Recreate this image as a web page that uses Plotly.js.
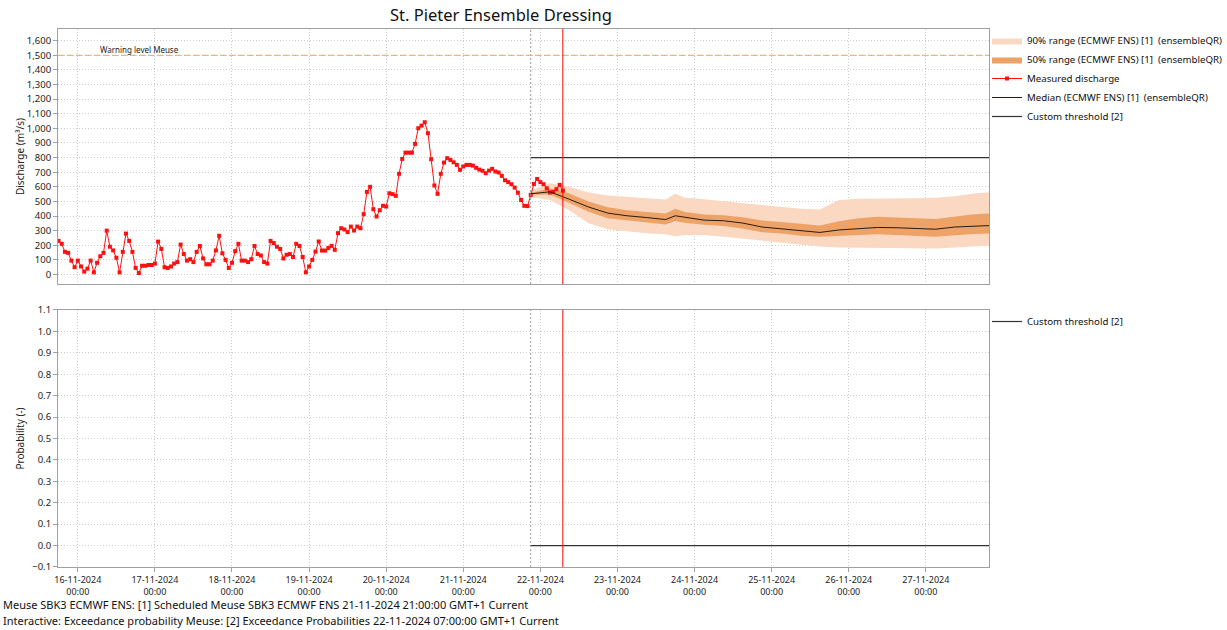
<!DOCTYPE html>
<html>
<head>
<meta charset="utf-8">
<script src="https://cdn.plot.ly/plotly-3.0.1.min.js"></script>
<style>html,body{margin:0;padding:0;background:#fff}#chart{width:1227px;height:630px}</style>
</head>
<body>
<div id="chart"></div>
<script>
// ---------- DATA ----------
const measuredStart = "2024-11-15T18:00:00"; // hourly measurements
const measuredValues = [
  // 15-11 18:00 .. 17-11 00:00
  230,210,155,148,95,50,95,55,20,40,95,15,80,125,148,300,190,165,115,15,155,280,230,155,45,10,60,60,65,65,75,
  // 17-11 01:00 .. 18-11 23:00
  225,175,50,45,55,75,85,205,140,95,105,85,155,195,110,70,70,95,165,265,145,100,45,80,160,210,95,95,85,105,195,140,130,85,75,230,215,190,175,110,135,140,120,210,195,120,15,
  // 19-11
  55,100,157,226,164,164,182,196,169,283,317,308,290,328,301,328,317,413,565,600,447,397,440,470,
  // 20-11
  465,556,550,538,689,791,834,834,834,894,1001,1019,1042,967,789,609,552,689,766,796,784,768,750,716,
  // 21-11
  739,750,750,745,730,718,710,693,711,723,705,698,675,645,632,618,595,560,510,470,468,545,620,654,
  // 22-11 00:00 .. 07:00
  632,618,590,561,566,584,613,574
];

const forecastTimes = [
  "2024-11-21 21:00","2024-11-22 03:00","2024-11-22 09:00","2024-11-22 15:00","2024-11-22 21:00",
  "2024-11-23 03:00","2024-11-23 09:00","2024-11-23 15:00","2024-11-23 18:00","2024-11-23 21:00",
  "2024-11-24 03:00","2024-11-24 09:00","2024-11-24 15:00","2024-11-24 21:00",
  "2024-11-25 03:00","2024-11-25 09:00","2024-11-25 15:00","2024-11-25 21:00",
  "2024-11-26 03:00","2024-11-26 09:00","2024-11-26 15:00","2024-11-26 21:00",
  "2024-11-27 03:00","2024-11-27 09:00","2024-11-27 15:00","2024-11-27 21:00"
];
const median   = [552,566,515,462,420,402,390,376,402,392,372,368,352,325,312,303,288,305,315,322,320,314,310,325,333,336];
const p50Upper = [560,588,555,500,460,440,428,418,450,428,410,405,392,370,360,345,335,365,385,395,392,385,380,395,412,418];
const p50Lower = [545,548,490,430,385,370,355,343,366,355,340,332,315,290,280,265,258,265,272,275,270,262,258,268,278,282];
const p90Upper = [575,625,600,562,540,530,520,514,552,525,515,503,490,475,465,450,445,510,518,518,518,522,525,535,555,566];
const p90Lower = [530,510,440,350,310,295,283,275,262,270,270,258,245,228,218,205,192,185,184,184,182,180,178,185,195,200];

const thresholdTimes = ["2024-11-21 21:00","2024-11-27 21:00"];
const thresholdDischarge = [800, 800];
const thresholdProbability = [0, 0];
const warningLevel = 1500;
const exceedanceTime = "2024-11-22 07:00";

const xRange = ["2024-11-15 17:50","2024-11-27 19:40"];
const yRangeQ = [-65, 1680];
const yRangeP = [-0.1, 1.1];

// ---------- BUILD ----------
const t0 = Date.parse(measuredStart + "Z");
const measuredTimes = measuredValues.map((_, i) =>
  new Date(t0 + i * 3600000).toISOString().slice(0, 19).replace("T", " "));

const FONT = "Noto Sans, Open Sans, sans-serif";
const c90 = "rgb(250,216,194)";
const c50 = "rgb(237,162,104)";

const traces = [
  {x: forecastTimes, y: p90Lower, type: "scatter", mode: "lines", line: {width: 0, color: c90},
   showlegend: false, hoverinfo: "skip", xaxis: "x", yaxis: "y"},
  {x: forecastTimes, y: p90Upper, type: "scatter", mode: "lines", line: {width: 0, color: c90},
   fill: "tonexty", fillcolor: c90, name: "90% range (ECMWF ENS) [1]  (ensembleQR)", legend: "legend",
   xaxis: "x", yaxis: "y"},
  {x: forecastTimes, y: p50Lower, type: "scatter", mode: "lines", line: {width: 0, color: c50},
   showlegend: false, hoverinfo: "skip", xaxis: "x", yaxis: "y"},
  {x: forecastTimes, y: p50Upper, type: "scatter", mode: "lines", line: {width: 0, color: c50},
   fill: "tonexty", fillcolor: c50, name: "50% range (ECMWF ENS) [1]  (ensembleQR)", legend: "legend",
   xaxis: "x", yaxis: "y"},
  {x: measuredTimes, y: measuredValues, type: "scatter", mode: "lines+markers",
   line: {color: "#ff1010", width: 1}, marker: {symbol: "square", size: 4, color: "#ff1010"},
   name: "Measured discharge", legend: "legend", xaxis: "x", yaxis: "y"},
  {x: forecastTimes, y: median, type: "scatter", mode: "lines", line: {color: "#2a1a10", width: 1},
   name: "Median (ECMWF ENS) [1]  (ensembleQR)", legend: "legend", xaxis: "x", yaxis: "y"},
  {x: thresholdTimes, y: thresholdDischarge, type: "scatter", mode: "lines", line: {color: "#333", width: 1.2},
   name: "Custom threshold [2]", legend: "legend", xaxis: "x", yaxis: "y"},
  {x: thresholdTimes, y: thresholdProbability, type: "scatter", mode: "lines", line: {color: "#333", width: 1.2},
   name: "Custom threshold [2]", legend: "legend2", xaxis: "x2", yaxis: "y2"}
];

const gridStyle = {gridcolor: "#cccccc", griddash: "1px,2px", gridwidth: 1};
const axisLine = {showline: true, linecolor: "#a0a0a0", linewidth: 1, mirror: true, zeroline: false};

const layout = {
  width: 1227, height: 630,
  margin: {l: 58, r: 238, t: 29, b: 63, autoexpand: false},
  paper_bgcolor: "#fff", plot_bgcolor: "#fff",
  font: {family: FONT, size: 10, color: "#222"},
  title: {text: "St. Pieter Ensemble Dressing", font: {family: FONT, size: 16.5, color: "#111"},
          x: 501/1227, xref: "container", xanchor: "center", y: 1 - 15/630, yref: "container", yanchor: "middle"},
  showlegend: true,
  xaxis: Object.assign({}, gridStyle, axisLine, {
    type: "date", range: xRange, domain: [0, 1], anchor: "y",
    tick0: "2024-11-16", dtick: 86400000, showticklabels: false, ticks: ""}),
  xaxis2: Object.assign({}, gridStyle, axisLine, {
    type: "date", range: xRange, domain: [0, 1], anchor: "y2", matches: "x",
    tick0: "2024-11-16", dtick: 86400000, tickformat: "%d-%m-%Y<br>%H:%M",
    ticks: "outside", ticklen: 4, tickcolor: "#a0a0a0", tickfont: {size: 9}}),
  yaxis: Object.assign({}, gridStyle, axisLine, {
    domain: [0.526, 1], anchor: "x", range: yRangeQ, tick0: 0, dtick: 100, tickformat: ",",
    ticks: "outside", ticklen: 4, tickcolor: "#a0a0a0", tickfont: {size: 9.5},
    title: {text: "Discharge (m³/s)", font: {size: 10}, standoff: 0}}),
  yaxis2: Object.assign({}, gridStyle, axisLine, {
    domain: [0, 0.4777], anchor: "x2", range: yRangeP, tick0: 0, dtick: 0.1, tickformat: ".1f",
    ticks: "outside", ticklen: 4, tickcolor: "#a0a0a0", tickfont: {size: 9.5},
    title: {text: "Probability (-)", font: {size: 10}, standoff: 5}}),
  legend: {x: 987/1227, xref: "container", xanchor: "left", y: 1 - 26/630, yref: "container", yanchor: "top",
           font: {size: 9.7, color: "#111"}, bgcolor: "rgba(0,0,0,0)", itemwidth: 30, tracegroupgap: 0,
           traceorder: "normal"},
  legend2: {x: 987/1227, xref: "container", xanchor: "left", y: 1 - 307/630, yref: "container", yanchor: "top",
            font: {size: 9.7, color: "#111"}, bgcolor: "rgba(0,0,0,0)", itemwidth: 30},
  shapes: [
    {type: "line", xref: "x", yref: "y domain", x0: forecastTimes[0], x1: forecastTimes[0], y0: 0, y1: 1,
     line: {color: "#999", width: 1, dash: "2px,2px"}},
    {type: "line", xref: "x2", yref: "y2 domain", x0: forecastTimes[0], x1: forecastTimes[0], y0: 0, y1: 1,
     line: {color: "#999", width: 1, dash: "2px,2px"}},
    {type: "line", xref: "x domain", yref: "y", x0: 0, x1: 1, y0: warningLevel, y1: warningLevel,
     line: {color: "#F2A65A", width: 1, dash: "6px,3px"}},
    {type: "line", xref: "x", yref: "y domain", x0: exceedanceTime, x1: exceedanceTime, y0: 0, y1: 1,
     line: {color: "#ff0000", width: 1}},
    {type: "line", xref: "x2", yref: "y2 domain", x0: exceedanceTime, x1: exceedanceTime, y0: 0, y1: 1,
     line: {color: "#ff0000", width: 1}}
  ],
  annotations: [
    {text: "Warning level Meuse", xref: "x domain", yref: "y", x: 0.043, y: warningLevel,
     xanchor: "left", yanchor: "bottom", showarrow: false, font: {size: 8, color: "#222"}, yshift: -2},
    {text: "Meuse SBK3 ECMWF ENS: [1] Scheduled Meuse SBK3 ECMWF ENS 21-11-2024 21:00:00 GMT+1 Current",
     xref: "paper", yref: "paper", x: -0.0605, y: -0.0695, xanchor: "left", yanchor: "middle",
     showarrow: false, borderpad: 0, font: {size: 11, color: "#111"}},
    {text: "Interactive: Exceedance probability Meuse: [2] Exceedance Probabilities 22-11-2024 07:00:00 GMT+1 Current",
     xref: "paper", yref: "paper", x: -0.0605, y: -0.0995, xanchor: "left", yanchor: "middle",
     showarrow: false, borderpad: 0, font: {size: 11, color: "#111"}}
  ]
};

Plotly.newPlot("chart", traces, layout, {displayModeBar: false, staticPlot: true});
</script>
</body>
</html>
